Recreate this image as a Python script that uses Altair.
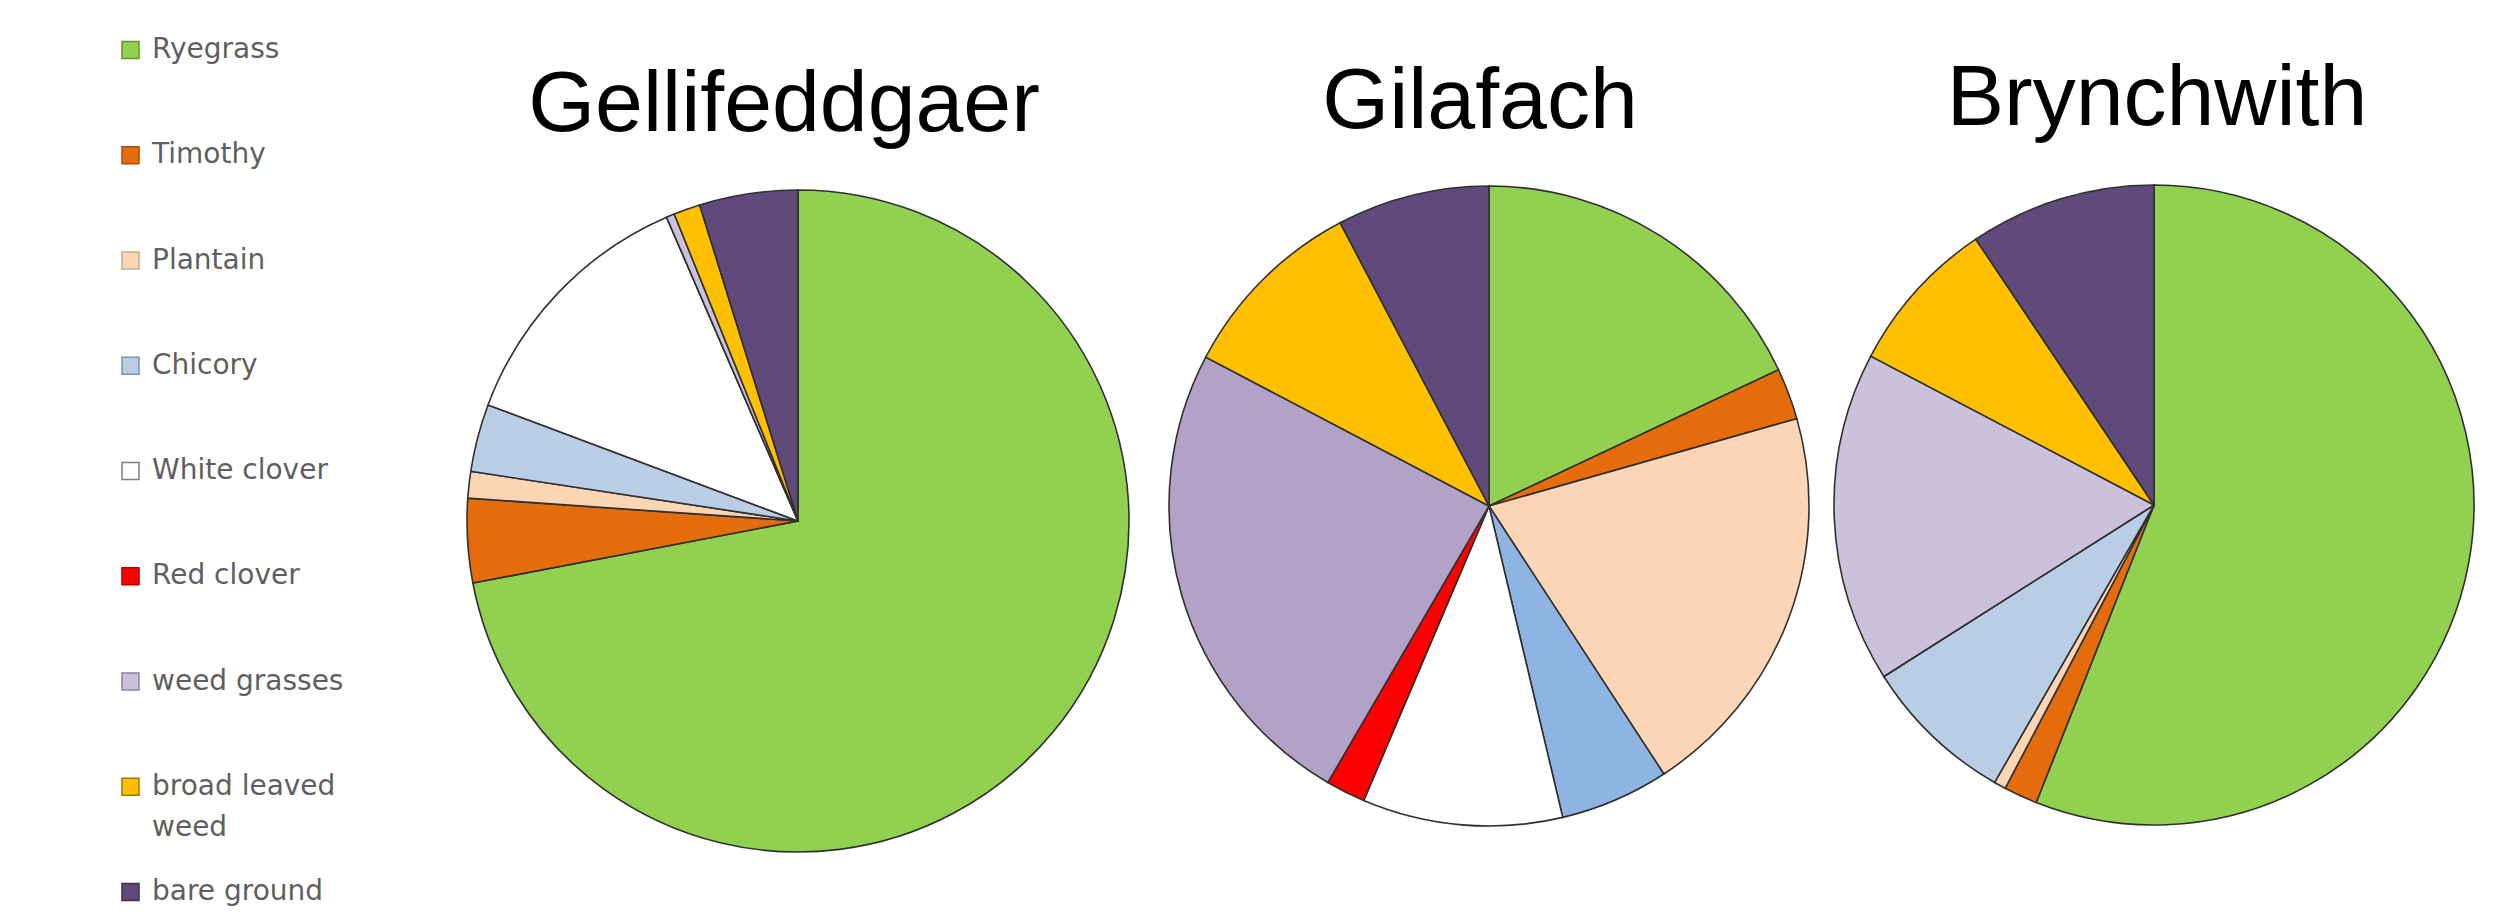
import altair as alt
import pandas as pd

# ---------------- data ----------------
species = ["Ryegrass", "Timothy", "Plantain", "Chicory", "White clover",
           "Red clover", "weed grasses", "broad leaved weed", "bare ground"]
legend_line1 = ["Ryegrass", "Timothy", "Plantain", "Chicory", "White clover",
                "Red clover", "weed grasses", "broad leaved", "bare ground"]
legend_line2 = ["", "", "", "", "", "", "", "weed", ""]

sites = ["Gellifeddgaer", "Gilafach", "Brynchwith"]
# percentage cover per species
gellifeddgaer = [72.0, 4.1, 1.3, 3.3, 12.8, 0.0, 0.4, 1.3, 4.8]
gilafach = [18.0, 2.6, 20.2, 5.5, 10.1, 2.0, 24.3, 9.6, 7.7]
brynchwith = [56.0, 1.7, 0.6, 7.7, 0.0, 0.0, 16.7, 7.9, 9.4]

# ---------------- styles ----------------
base_colors = ["#92D050", "#E46C0A", "#FCD5B5", "#B9CDE5", "#FFFFFF",
               "#FF0000", "#CCC1DA", "#FFC000", "#604A7B"]
gilafach_colors = ["#92D050", "#E46C0A", "#FBD5B5", "#8EB4E3", "#FFFFFF",
                   "#FF0000", "#B3A2C7", "#FFC000", "#604A7B"]
legend_strokes = ["#5E9A2A", "#A84F07", "#C9A88A", "#7F93AD", "#7F7F7F",
                  "#B00000", "#8E8499", "#A07800", "#3E2F52"]

W, H = 2499, 904


def pie(values, colors, cx, cy, r):
    df = pd.DataFrame({"species": species, "idx": list(range(len(species))),
                       "value": values})
    return alt.Chart(df).mark_arc(
        outerRadius=r, stroke="#303030", strokeWidth=1.6
    ).encode(
        theta=alt.Theta("value:Q", stack=True,
                        scale=alt.Scale(domain=[0, 100])),
        color=alt.Color("species:N",
                        scale=alt.Scale(domain=species, range=colors),
                        legend=None),
        order=alt.Order("idx:Q"),
        x=alt.value(cx),
        y=alt.value(cy),
    )


def title(name, cx, cy):
    return alt.Chart(pd.DataFrame({"site": [name]})).mark_text(
        font="Liberation Sans", fontSize=86, align="center",
        baseline="alphabetic", color="#000000"
    ).encode(text="site:N", x=alt.value(cx), y=alt.value(cy))


leg_df = pd.DataFrame({"species": species, "idx": list(range(len(species))),
                       "line1": legend_line1, "line2": legend_line2})
ypos = alt.Y("idx:Q", scale=alt.Scale(domain=[0, 8], range=[42, 884],
                                      nice=False, zero=False), axis=None)

leg_squares = alt.Chart(leg_df).mark_square(
    size=289, filled=True, strokeWidth=1.5, opacity=1
).encode(
    x=alt.value(122.5),
    y=ypos,
    fill=alt.Fill("species:N", scale=alt.Scale(domain=species, range=base_colors),
                  legend=None),
    stroke=alt.Stroke("species:N",
                      scale=alt.Scale(domain=species, range=legend_strokes),
                      legend=None),
)

leg_text1 = alt.Chart(leg_df).mark_text(
    align="left", baseline="middle", font="DejaVu Sans", fontSize=28,
    color="#5f5f5f"
).encode(x=alt.value(144), y=ypos, text="line1:N")

leg_text2 = alt.Chart(leg_df).mark_text(
    align="left", baseline="middle", font="DejaVu Sans", fontSize=28,
    color="#5f5f5f", dy=41
).encode(x=alt.value(144), y=ypos, text="line2:N")

chart = alt.layer(
    pie(gellifeddgaer, base_colors, 790, 513, 331),
    pie(gilafach, gilafach_colors, 1481, 498, 320),
    pie(brynchwith, base_colors, 2146, 497, 320),
    title(sites[0], 776, 123),
    title(sites[1], 1472, 120),
    title(sites[2], 2149, 117),
    leg_squares,
    leg_text1,
    leg_text2,
).resolve_scale(
    color="independent", fill="independent", stroke="independent"
).properties(
    width=W, height=H, padding=0,
    autosize=alt.AutoSizeParams(type="none"),
    background="white",
).configure_view(stroke=None)

chart.save("out.html", embed_options={"renderer": "svg", "actions": False})
